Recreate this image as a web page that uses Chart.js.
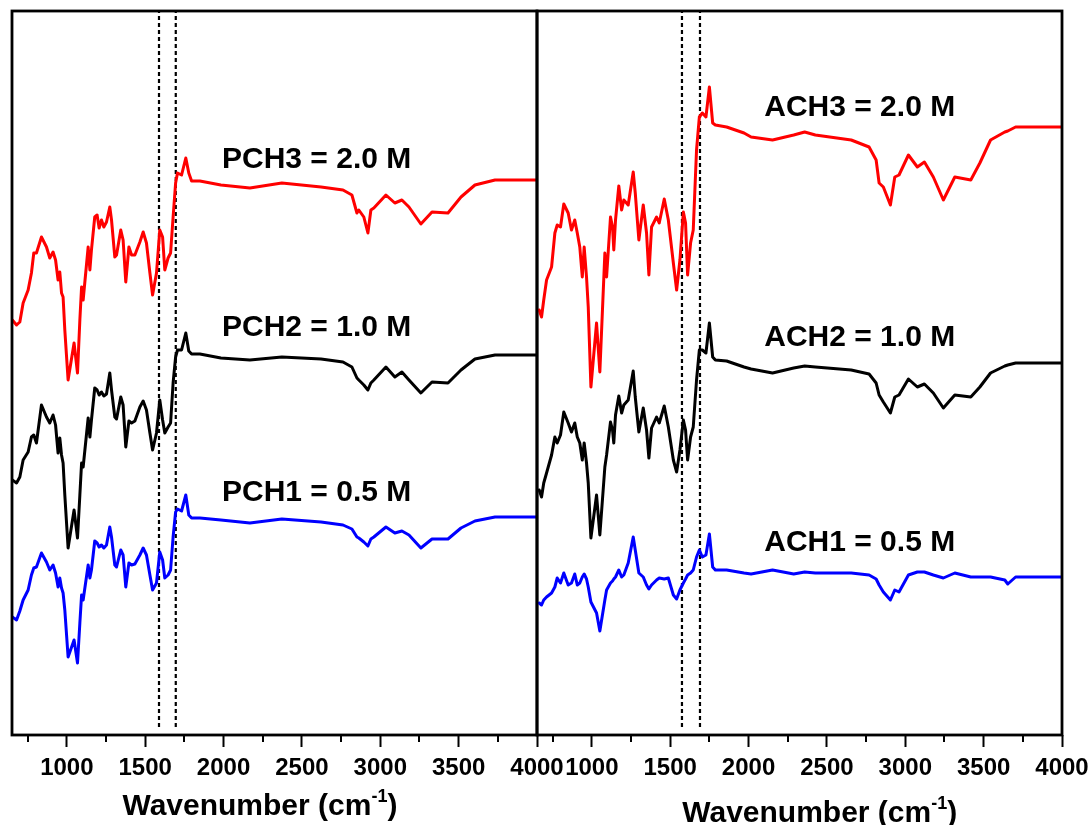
<!DOCTYPE html>
<html>
<head>
<meta charset="utf-8">
<script src="https://cdn.jsdelivr.net/npm/chart.js@4.4.1/dist/chart.umd.min.js"></script>
<style>
html, body { margin: 0; background: #fff; }
#wrap { position: relative; width: 1091px; height: 825px; overflow: hidden; background: #fff; }
#wrap canvas { position: absolute; top: 0; }
#cl { left: 0; }
#cr { left: 510px; }
</style>
</head>
<body>
<div id="wrap">
  <canvas id="cl" width="580" height="825"></canvas>
  <canvas id="cr" width="581" height="825"></canvas>
</div>
<script>
/* FTIR spectra, two panels: PCH series (left) and ACH series (right) */
const FONT = '"Liberation Sans", Arial, sans-serif';

const majorTicks = [1000, 1500, 2000, 2500, 3000, 3500, 4000];
const minorTicks = [750, 1250, 1750, 2250, 2750, 3250, 3750];

// left panel: wavenumber grid (cm-1) and offset transmittance (a.u.)
const wnLeft = [652, 679, 700, 721, 753, 774, 789, 806, 838, 870, 891, 912, 928, 944, 955, 966, 976, 987, 1008, 1046,
  1068, 1083, 1094, 1104, 1136, 1147, 1157, 1178, 1193, 1206, 1221, 1236, 1253, 1274, 1285, 1306, 1317, 1344, 1359, 1376,
  1396, 1413, 1434, 1466, 1487, 1508, 1530, 1547, 1572, 1593, 1611, 1625, 1646, 1662, 1678, 1694, 1706, 1732, 1759, 1778,
  1796, 1849, 1983, 2168, 2372, 2622, 2762, 2819, 2851, 2863, 2895, 2921, 2940, 2959, 3036, 3093, 3138, 3183, 3259, 3330,
  3432, 3515, 3604, 3732, 3834, 4000];
const pch3 = [415, 410, 413, 432, 445, 462, 482, 482, 498, 488, 477, 483, 475, 455, 463, 442, 438, 405, 355, 392,
  362, 415, 448, 435, 488, 465, 485, 518, 520, 507, 515, 508, 513, 528, 515, 478, 480, 505, 495, 453,
  488, 480, 480, 493, 503, 492, 462, 440, 462, 505, 498, 465, 477, 482, 518, 552, 562, 560, 577, 562,
  554, 554, 550, 547, 552, 548, 545, 540, 522, 525, 518, 502, 525, 527, 540, 532, 535, 528, 511, 523,
  522, 538, 550, 555, 555, 555];
const pch2 = [255, 252, 258, 275, 283, 298, 300, 292, 330, 318, 312, 320, 310, 282, 297, 280, 272, 240, 187, 225,
  197, 240, 272, 268, 317, 298, 315, 347, 345, 340, 343, 339, 341, 362, 345, 318, 316, 338, 330, 288,
  314, 312, 314, 328, 334, 325, 302, 285, 302, 335, 315, 302, 308, 312, 352, 378, 385, 385, 402, 384,
  381, 381, 377, 375, 378, 376, 373, 368, 357, 355, 350, 345, 352, 355, 368, 358, 363, 355, 342, 353,
  352, 365, 376, 380, 380, 380];
const pch1 = [118, 115, 124, 135, 145, 160, 167, 168, 182, 173, 165, 170, 162, 148, 157, 147, 142, 125, 78, 95,
  72, 112, 140, 135, 170, 157, 165, 194, 192, 188, 190, 187, 190, 208, 198, 170, 168, 185, 180, 148,
  172, 170, 171, 180, 187, 180, 160, 145, 152, 183, 175, 157, 160, 165, 198, 223, 226, 224, 240, 220,
  217, 217, 215, 212, 216, 213, 210, 206, 198, 197, 193, 189, 196, 198, 208, 202, 204, 200, 187, 196,
  196, 207, 214, 218, 218, 218];

// right panel
const wnRight = [664, 679, 693, 711, 743, 764, 779, 800, 821, 849, 870, 891, 907, 923, 939, 951, 966, 977, 994, 1030,
  1051, 1083, 1094, 1119, 1132, 1140, 1151, 1172, 1190, 1204, 1232, 1264, 1277, 1300, 1328, 1349, 1364, 1381, 1413, 1430,
  1462, 1488, 1520, 1541, 1562, 1584, 1598, 1611, 1630, 1647, 1668, 1686, 1705, 1728, 1750, 1771, 1788, 1860, 1971, 2016,
  2153, 2288, 2358, 2426, 2655, 2769, 2814, 2833, 2860, 2905, 2933, 2960, 3020, 3077, 3122, 3179, 3243, 3316, 3418, 3476,
  3544, 3635, 3654, 3704, 3850, 4000];
const ach3 = [425, 418, 435, 455, 468, 502, 510, 508, 531, 522, 505, 515, 502, 488, 458, 488, 458, 428, 348, 412,
  363, 482, 458, 518, 508, 485, 515, 549, 525, 535, 530, 563, 542, 495, 530, 502, 460, 508, 518, 512,
  536, 515, 472, 445, 475, 523, 512, 460, 492, 505, 585, 618, 622, 618, 648, 612, 610, 608, 602, 598,
  595, 600, 603, 600, 595, 588, 575, 552, 548, 530, 558, 560, 580, 568, 573, 558, 535, 558, 555, 572,
  595, 603, 604, 608, 608, 608];
const ach2 = [245, 238, 252, 262, 280, 298, 292, 300, 323, 312, 303, 312, 298, 292, 275, 292, 272, 252, 197, 240,
  200, 268, 280, 313, 305, 292, 320, 339, 322, 330, 335, 364, 338, 303, 327, 305, 277, 307, 318, 312,
  329, 308, 275, 263, 285, 315, 305, 275, 298, 308, 355, 385, 385, 382, 412, 378, 375, 374, 368, 366,
  362, 367, 369, 368, 365, 361, 352, 340, 333, 322, 338, 340, 356, 348, 351, 342, 327, 340, 338, 348,
  362, 369, 370, 372, 372, 372];
const ach1 = [132, 130, 135, 138, 142, 148, 157, 152, 162, 150, 152, 161, 150, 152, 158, 161, 156, 148, 133, 122,
  104, 135, 145, 152, 154, 156, 158, 165, 158, 160, 172, 198, 185, 162, 158, 150, 146, 150, 155, 157,
  156, 157, 140, 136, 145, 152, 156, 160, 162, 165, 178, 185, 178, 180, 201, 168, 165, 165, 162, 161,
  165, 161, 163, 162, 162, 160, 156, 150, 143, 135, 145, 143, 160, 163, 163, 160, 157, 162, 158, 158,
  158, 155, 151, 158, 158, 158];

const markersLeft = [1588, 1695];
const markersRight = [1575, 1690];

const labelsLeft = ['PCH3 = 2.0 M', 'PCH2 = 1.0 M', 'PCH1 = 0.5 M'];
const labelsRight = ['ACH3 = 2.0 M', 'ACH2 = 1.0 M', 'ACH1 = 0.5 M'];
const labelWnLeft = 1990, labelWnRight = 2100;
const labelYLeft = [575, 407, 242];
const labelYRight = [627, 397, 192];

function pts(xs, ys) { return xs.map((x, i) => ({ x, y: ys[i] })); }

function curve(xs, ys, color) {
    return { data: pts(xs, ys), borderColor: color, borderWidth: 3, pointRadius: 0, tension: 0, borderJoinStyle: 'round', borderCapStyle: 'round' };
}

function dashed(wn) {
    return { data: [{ x: wn, y: 8 }, { x: wn, y: 724 }], borderColor: '#000', borderWidth: 2.2, borderDash: [4, 3], pointRadius: 0 };
}

const framePlugin = {
    id: 'frame',
    afterDatasetsDraw(chart, args, o) {
        const { ctx, chartArea: a } = chart;
        const x = chart.scales.x, y = chart.scales.y;
        ctx.save();
        ctx.strokeStyle = '#000';
        ctx.lineWidth = 2.8;
        ctx.strokeRect(a.left, a.top, a.right - a.left, a.bottom - a.top);
        // minor ticks
        ctx.lineWidth = 2;
        minorTicks.forEach(v => {
            const px = Math.round(x.getPixelForValue(v));
            ctx.beginPath(); ctx.moveTo(px, a.bottom); ctx.lineTo(px, a.bottom + 7); ctx.stroke();
        });
        // curve labels
        ctx.fillStyle = '#000';
        ctx.font = 'bold 30px ' + FONT;
        ctx.textBaseline = 'middle';
        ctx.textAlign = 'left';
        o.labels.forEach((t, i) => ctx.fillText(t, x.getPixelForValue(o.labelWn), y.getPixelForValue(o.labelY[i])));
        // axis title with superscript
        const big = 'bold 30px ' + FONT, small = 'bold 18px ' + FONT;
        ctx.textBaseline = 'alphabetic';
        ctx.font = big;
        const w1 = ctx.measureText('Wavenumber (cm').width, w3 = ctx.measureText(')').width;
        ctx.font = small;
        const w2 = ctx.measureText('-1').width;
        let tx = x.getPixelForValue(o.titleWn) - (w1 + w2 + w3) / 2;
        const ty = a.bottom + o.titleOff;
        ctx.font = big; ctx.fillText('Wavenumber (cm', tx, ty); tx += w1;
        ctx.font = small; ctx.fillText('-1', tx, ty - 13); tx += w2;
        ctx.font = big; ctx.fillText(')', tx, ty);
        ctx.restore();
    }
};

function makeChart(id, datasets, pad, opts) {
    return new Chart(document.getElementById(id), {
        type: 'line',
        data: { datasets },
        options: {
            responsive: false,
            animation: false,
            devicePixelRatio: 1,
            layout: { padding: pad },
            plugins: { legend: { display: false }, tooltip: { enabled: false }, frame: opts },
            scales: {
                x: {
                    type: 'linear', min: 650, max: 4000,
                    afterBuildTicks: s => { s.ticks = majorTicks.map(v => ({ value: v })); },
                    afterFit: s => { s.height = 90; s.paddingLeft = 0; s.paddingRight = 0; },
                    grid: { drawOnChartArea: false, drawTicks: true, tickLength: 12, tickWidth: 2, tickColor: '#000' },
                    border: { display: false },
                    ticks: {
                        color: '#000', padding: 7, maxRotation: 0, autoSkip: false,
                        font: { family: FONT, size: 24, weight: 'bold' },
                        callback: v => String(v)
                    }
                },
                y: { display: false, min: 0, max: 724 }
            }
        },
        plugins: [framePlugin]
    });
}

makeChart('cl', [
    curve(wnLeft, pch3, '#ff0000'),
    curve(wnLeft, pch2, '#000000'),
    curve(wnLeft, pch1, '#0000ff'),
    ...markersLeft.map(dashed)
], { left: 12, right: 43, top: 11, bottom: 0 },
    { labels: labelsLeft, labelWn: labelWnLeft, labelY: labelYLeft, titleWn: 2232, titleOff: 80 });

makeChart('cr', [
    curve(wnRight, ach3, '#ff0000'),
    curve(wnRight, ach2, '#000000'),
    curve(wnRight, ach1, '#0000ff'),
    ...markersRight.map(dashed)
], { left: 27, right: 29, top: 11, bottom: 0 },
    { labels: labelsRight, labelWn: labelWnRight, labelY: labelYRight, titleWn: 2454, titleOff: 87 });
</script>
</body>
</html>
